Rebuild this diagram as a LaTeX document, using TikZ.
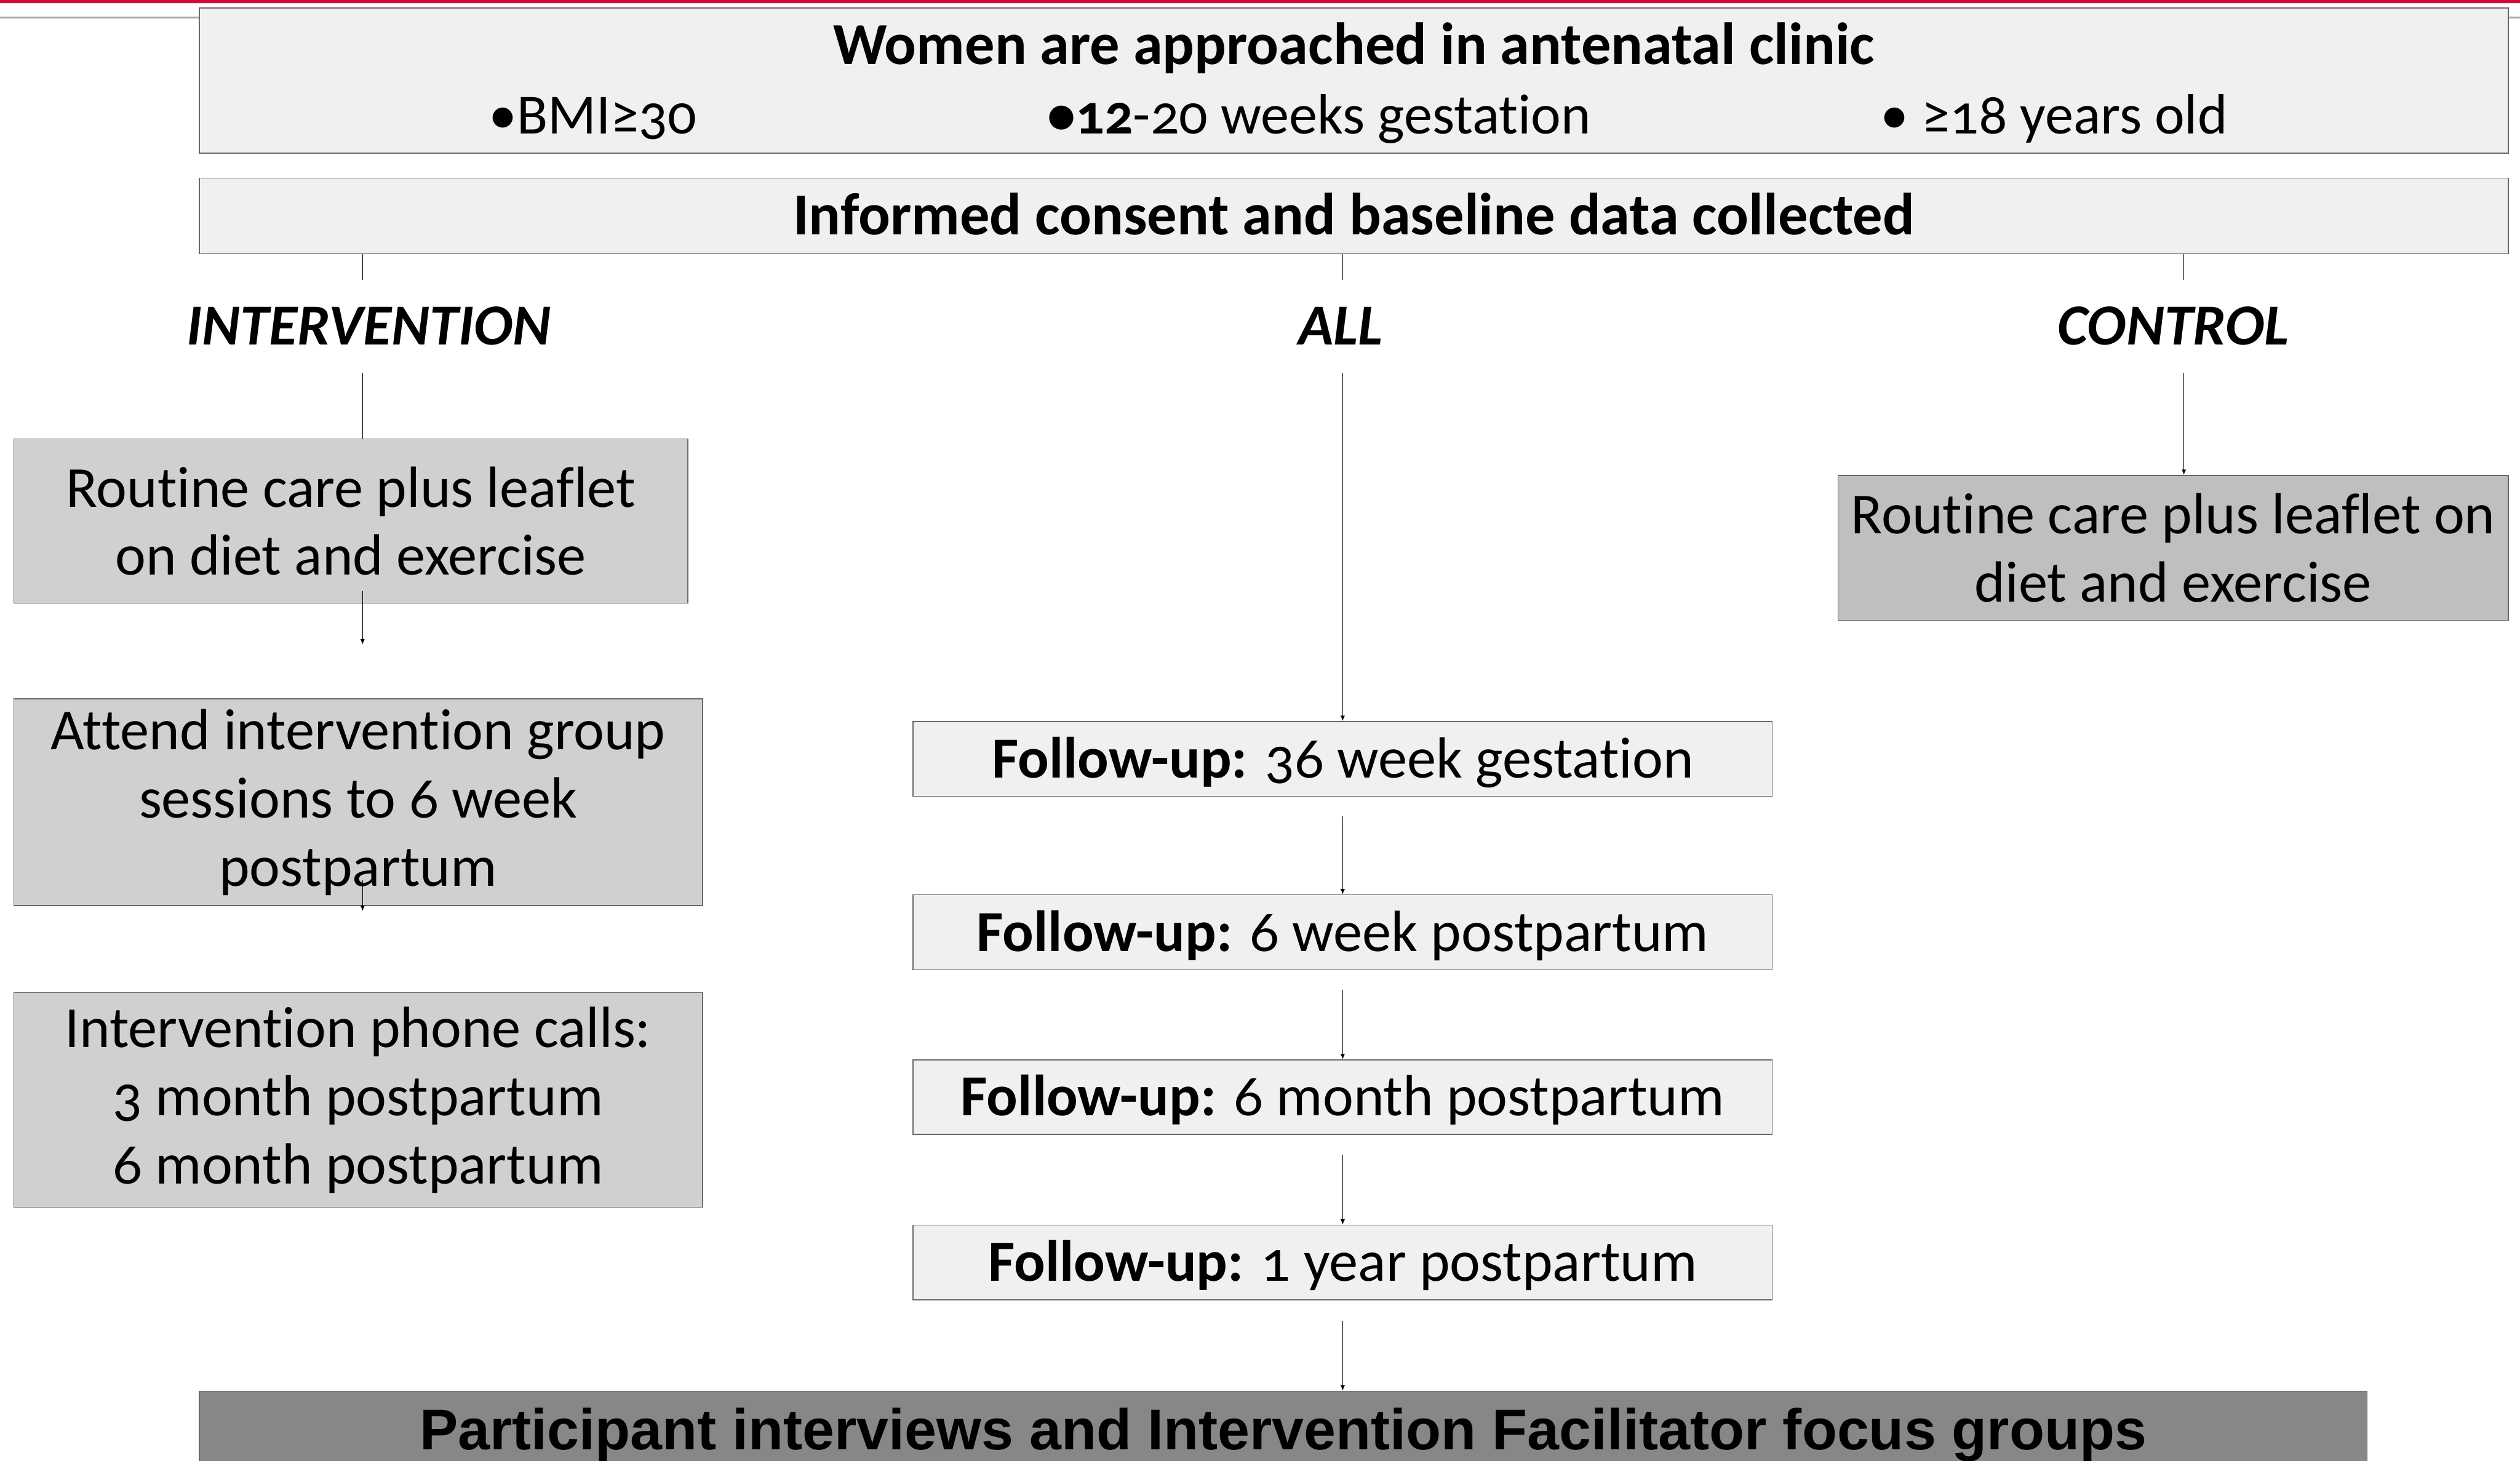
\documentclass[tikz,border=0pt]{standalone}
\usepackage{fontspec}
\setmainfont{Carlito}[Numbers=OldStyle, Ligatures=NoCommon]
\newfontfamily\arialfont{Liberation Sans}
\usetikzlibrary{arrows.meta, positioning, calc}
\definecolor{cred}{HTML}{E4003A}
\definecolor{cpale}{HTML}{F0F0F0}
\definecolor{clight}{HTML}{D0D0D0}
\definecolor{cmid}{HTML}{BFBFBF}
\definecolor{cdark}{HTML}{878787}
\definecolor{cedge}{HTML}{6B6B6B}
\tikzset{
  every picture/.style={font=\fontsize{26}{30.5}\selectfont, line width=0.4pt},
  box/.style={draw=cedge, fill=#1, align=center, inner sep=0pt},
  box/.default=cpale,
  oneline/.style={text height=0.59cm, text depth=0pt},
  heading/.style={font=\fontsize{26.6}{30.5}\selectfont\bfseries},
  arrow/.style={-{Latex[length=2.4pt, width=2pt]}},
  arm/.style={font=\fontsize{26}{30.5}\selectfont\bfseries\itshape, inner xsep=0pt, inner ysep=0.43cm, text height=0.59cm, text depth=0pt},
  bullet/.style={anchor=base west, inner sep=0pt, font=\fontsize{25.4}{30}\selectfont},
}

\begin{document}
\begin{tikzpicture}
  \path[use as bounding box, clip] (0,0) rectangle (39.62,-22.97);
  \fill[cred] (0,0) rectangle (39.62,-0.05);
  \draw[gray!70, line width=0.8pt] (0,-0.275) -- (39.62,-0.275);

  \node[box, minimum width=36.3cm, minimum height=2.285cm] (clinic) at (21.285,-1.2675) {};
  \node[heading, anchor=base, inner sep=0pt] (clinictitle) at (21.285,-1.015) {Women are approached in antenatal clinic};
  \node[bullet] (bmi) at (7.675,-2.1) {•BMI≥30};
  \node[bullet] (weeks) at (16.46,-2.1) {\textbf{•12}-20 weeks gestation};
  \node[bullet] (age) at (29.56,-2.1) {• ≥18 years old};
  \node[box, oneline, heading, minimum width=36.3cm, minimum height=1.19cm] (consent) at (21.285,-3.395) {Informed consent and baseline data collected};

  \coordinate (intx) at (5.70,0);
  \coordinate (allx) at (21.11,0);
  \coordinate (ctlx) at (34.335,0);
  \node[arm] (intervention) at (5.80,-5.13) {INTERVENTION};
  \node[arm] (all) at (21.08,-5.13) {ALL};
  \node[arm] (control) at (34.17,-5.13) {CONTROL};

  \node[box=clight, minimum width=10.6cm, minimum height=2.585cm] (routine) at (5.515,-8.1925) {Routine care plus leaflet\\on diet and exercise};
  \node[box=clight, minimum width=10.83cm, minimum height=3.25cm] (sessions) at (5.63,-12.615) {Attend intervention group\\sessions to 6 week\\postpartum};
  \node[box=clight, minimum width=10.83cm, minimum height=3.38cm] (calls) at (5.63,-17.295) {Intervention phone calls:\\3 month postpartum\\6 month postpartum};
  \node[box=cmid, minimum width=10.535cm, minimum height=2.28cm] (ctlcare) at (34.1675,-8.615) {Routine care plus leaflet on\\diet and exercise};

  \node[box, oneline, minimum width=13.51cm, minimum height=1.175cm] (fu36w) at (21.11,-11.9325) {\textbf{Follow-up:} 36 week gestation};
  \node[box, oneline, minimum width=13.51cm, minimum height=1.18cm] (fu6w) at (21.11,-14.66) {\textbf{Follow-up:} 6 week postpartum};
  \node[box, oneline, minimum width=13.51cm, minimum height=1.17cm] (fu6m) at (21.11,-17.25) {\textbf{Follow-up:} 6 month postpartum};
  \node[box, oneline, minimum width=13.51cm, minimum height=1.175cm] (fu1y) at (21.11,-19.8525) {\textbf{Follow-up:} 1 year postpartum};
  \node[box=cdark, minimum width=34.08cm, minimum height=1.38cm, font=\arialfont\bfseries\fontsize{25.7}{30}\selectfont] (interviews) at (20.175,-22.565) {Participant interviews and Intervention Facilitator focus groups};

  \draw (consent.south -| intx) -- (intx |- intervention.north);
  \draw (consent.south -| allx) -- (allx |- all.north);
  \draw (consent.south -| ctlx) -- (ctlx |- control.north);
  \draw (intx |- intervention.south) -- (intx |- routine.north);
  \draw[arrow] (allx |- all.south) -- (allx |- fu36w.north);
  \draw[arrow] (ctlx |- control.south) -- (ctlx |- ctlcare.north);

  \coordinate (gapone) at (5.70,-10.135);
  \coordinate (gaptwo) at (5.70,-14.325);
  \draw[arrow] ($(routine.south -| intx)+(0,0.2)$) -- (gapone);
  \draw[arrow] ($(sessions.south -| intx)+(0,0.41)$) -- (gaptwo);

  \draw[arrow, shorten <=0.31cm] (fu36w.south) -- (fu6w.north);
  \draw[arrow, shorten <=0.31cm] (fu6w.south) -- (fu6m.north);
  \draw[arrow, shorten <=0.31cm] (fu6m.south) -- (fu1y.north);
  \draw[arrow, shorten <=0.32cm] (fu1y.south) -- (interviews.north -| fu1y.south);
\end{tikzpicture}
\end{document}
